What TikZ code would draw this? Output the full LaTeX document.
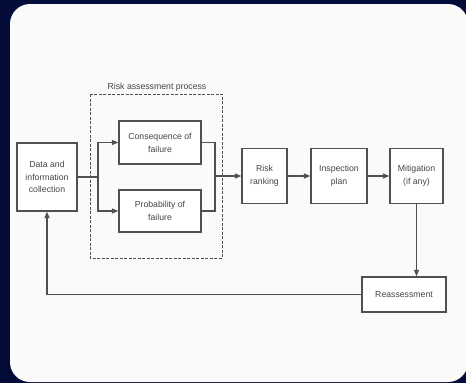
\documentclass[tikz,border=0pt]{standalone}
\usepackage{fontspec}
\setmainfont{Liberation Sans}
\usetikzlibrary{arrows.meta}
\definecolor{navy}{HTML}{030B38}
\definecolor{card}{HTML}{FAFAFA}
\definecolor{ink}{HTML}{505050}
\definecolor{txt}{HTML}{454545}
\tikzset{
  box/.style={draw=ink, line width=1.3pt, fill=white, align=center, inner sep=0pt,
    text=txt, font=\fontsize{8.7}{12.8}\selectfont},
  conn/.style={draw=ink, line width=1.2pt},
  arr/.style={conn, -{Triangle[length=6.5pt,width=5pt]}},
}
\begin{document}
\begin{tikzpicture}[x=1pt,y=-1pt]
\useasboundingbox (0,0) rectangle (466,383);
\fill[navy] (0,0) rectangle (466,383);
\fill[card, rounded corners=20pt] (10,4) rectangle (468,382);

% dashed group
\draw[ink, line width=1pt, dash pattern=on 3pt off 1.5pt] (90,94) rectangle (222,258);
\node[text=txt, font=\fontsize{8.7}{10}\selectfont] (grp) at (157,87) {Risk assessment process};

\node[box, minimum width=60pt, minimum height=68pt] (data) at (47,177) {Data and\\information\\collection};
\node[box, minimum width=82pt, minimum height=43pt] (cons) at (160,142.5) {Consequence of\\failure};
\node[box, minimum width=82pt, minimum height=42pt] (prob) at (160,211) {Probability of\\failure};
\node[box, minimum width=45pt, minimum height=55pt] (risk) at (264.5,176) {Risk\\ranking};
\node[box, minimum width=56pt, minimum height=55pt] (insp) at (339,176) {Inspection\\plan};
\node[box, minimum width=53pt, minimum height=55pt] (mit) at (416.5,176) {Mitigation\\(if any)};
\node[box, minimum width=84pt, minimum height=35pt] (reas) at (404,294.5) {Reassessment};

\coordinate (split) at (98,177);
\coordinate (join) at (215,176);

\draw[conn] (data.east) -- (split);
\draw[arr] (split) |- (cons.west);
\draw[arr] (split) |- (prob.west);
\draw[conn] (cons.east) -| (join);
\draw[conn] (prob.east) -| (join);
\draw[arr] (join) -- (risk.west);
\draw[arr] (risk) -- (insp);
\draw[arr] (insp) -- (mit);
\draw[arr] (mit.south) -- (mit.south |- reas.north);
\draw[arr] (reas.west) -| (data.south);
\end{tikzpicture}
\end{document}
